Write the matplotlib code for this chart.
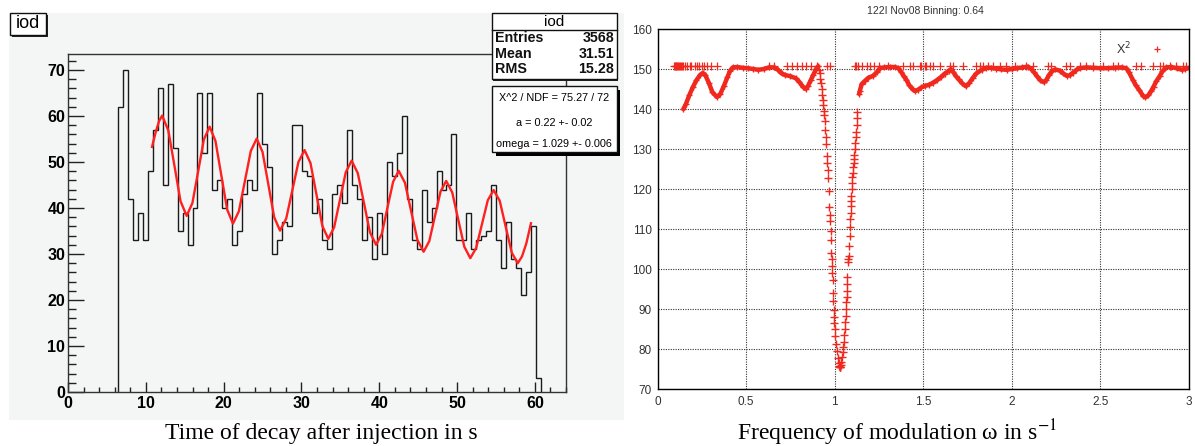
import numpy as np
import matplotlib.pyplot as plt
from matplotlib.patches import Rectangle
from matplotlib.lines import Line2D
from matplotlib.ticker import MultipleLocator, FuncFormatter

plt.rcParams['font.family'] = ['Liberation Sans', 'DejaVu Sans']

W, H = 1195, 446

# histogram "iod": counts in bins of 0.64 s, first bin starts at bin index 10 (6.4 s)
bin_width = 0.64
first_bin = 10
counts = [62, 70, 42, 33, 39, 33, 48, 57, 66, 45,
          67, 53, 35, 39, 32, 40, 65, 52, 65, 44,
          46, 40, 42, 32, 35, 43, 46, 44, 65, 54,
          49, 30, 33, 37, 36, 58, 58, 48, 47, 39,
          42, 33, 31, 43, 45, 41, 57, 45, 42, 33,
          38, 29, 39, 30, 50, 47, 52, 60, 42, 33,
          31, 44, 37, 40, 48, 44, 45, 56, 33, 33,
          39, 31, 33, 34, 35, 45, 33, 27, 37, 29,
          27, 21, 26, 36, 3]

# fitted curve
fit_t = [10.8, 11.25, 11.7, 12.1, 12.89, 13.68, 14.46, 15.25, 15.99, 16.73,
         17.46, 18.2, 18.95, 19.7, 20.45, 21.2, 21.96, 22.73, 23.49, 24.25,
         25.0, 25.75, 26.5, 27.25, 28.04, 28.83, 29.61, 30.4, 31.16, 31.93,
         32.69, 33.45, 34.2, 34.95, 35.7, 36.45, 37.24, 38.03, 38.81, 39.6,
         40.33, 41.05, 41.78, 42.5, 43.3, 44.1, 44.9, 45.7, 46.43, 47.15,
         47.88, 48.6, 49.38, 50.15, 50.93, 51.7, 52.45, 53.2, 53.95, 54.7,
         55.48, 56.25, 57.03, 57.8, 58.35, 58.9, 59.5]
fit_n = [53.3, 56.4, 58.9, 60.1, 56.9, 49.2, 41.5, 38.3, 41.1, 48.0,
         54.9, 57.7, 54.6, 47.15, 39.7, 36.6, 39.3, 45.85, 52.4, 55.1,
         52.2, 45.1, 38.0, 35.1, 37.7, 43.85, 50.0, 52.6, 49.8, 42.95,
         36.1, 33.3, 35.8, 41.8, 47.8, 50.3, 47.6, 41.15, 34.7, 32.0,
         34.4, 40.05, 45.7, 48.1, 45.5, 39.3, 33.1, 30.5, 32.8, 38.2,
         43.6, 45.9, 43.4, 37.5, 31.6, 29.1, 31.3, 36.5, 41.7, 43.9,
         41.6, 35.95, 30.3, 28.0, 29.5, 32.3, 36.7]

stats_rows = [('Entries', '3568'), ('Mean', '31.51'), ('RMS', '15.28')]
fit_rows = ['X^2 / NDF = 75.27 / 72', 'a = 0.22 +- 0.02', 'omega = 1.029 +- 0.006']

# chi^2 scan over omega
scan_a_w = [0.146, 0.16, 0.18, 0.20, 0.22, 0.24, 0.255, 0.27, 0.29, 0.31,
            0.335, 0.355, 0.375, 0.395, 0.41, 0.425, 0.45, 0.48, 0.51, 0.54,
            0.57, 0.60, 0.63, 0.66, 0.68, 0.70, 0.72, 0.75, 0.78, 0.80,
            0.82, 0.836, 0.85, 0.865, 0.88, 0.895, 0.907]
scan_a_chi = [140.0, 141.2, 143.5, 145.5, 147.2, 148.5, 149.0, 148.5, 146.5, 144.2,
              143.0, 143.8, 145.8, 148.0, 149.6, 150.4, 150.5, 150.3, 150.2, 150.0,
              149.8, 150.0, 150.4, 150.4, 149.8, 148.9, 148.5, 148.2, 147.7, 146.8,
              145.6, 145.0, 145.8, 147.2, 148.6, 150.0, 150.7]

dip_w = [0.913, 0.917, 0.920, 0.923, 0.927, 0.930, 0.933, 0.936, 0.939, 0.941,
         0.944, 0.947, 0.949, 0.951, 0.955, 0.958, 0.961, 0.962, 0.966, 0.970,
         0.973, 0.976, 0.978, 0.979, 0.981, 0.983, 0.985, 0.987, 0.989, 0.991,
         0.993, 0.994, 0.996, 0.998, 1.000, 1.004, 1.008, 1.013, 1.018, 1.023,
         1.026, 1.028, 1.030, 1.032, 1.035, 1.038, 1.042, 1.045, 1.048, 1.051,
         1.054, 1.056, 1.059, 1.062, 1.064, 1.066, 1.067, 1.068, 1.070, 1.071,
         1.075, 1.077, 1.079, 1.082, 1.085, 1.087, 1.088, 1.090, 1.092, 1.093,
         1.094, 1.096, 1.098, 1.100, 1.103, 1.105, 1.107, 1.109, 1.111, 1.114,
         1.117, 1.120, 1.122, 1.124, 1.126, 1.128]
dip_chi = [149.8, 148.9, 147.6, 146.5, 145.0, 143.5, 142.2, 141.0, 139.6, 138.5,
           137.0, 134.7, 133.1, 131.3, 128.3, 126.5, 124.8, 122.7, 119.4, 115.6,
           113.5, 111.9, 109.5, 107.3, 104.0, 102.5, 100.7, 99.0, 97.3, 94.0,
           92.0, 89.8, 88.0, 86.5, 85.0, 83.2, 81.2, 79.4, 77.8, 76.5,
           75.8, 75.6, 75.4, 75.6, 76.0, 76.7, 78.0, 79.2, 80.5, 81.7,
           83.5, 85.0, 86.8, 88.3, 90.0, 91.7, 93.0, 94.6, 96.3, 97.9,
           101.7, 102.5, 103.3, 105.8, 108.3, 110.5, 112.5, 114.0, 115.8, 117.0,
           118.3, 120.0, 121.6, 123.0, 124.1, 125.5, 126.6, 127.6, 128.6, 130.0,
           131.5, 133.1, 134.3, 136.0, 137.8, 139.3]

scan_b_w = [1.138, 1.142, 1.152, 1.17, 1.19, 1.217, 1.24, 1.255, 1.28, 1.31,
            1.34, 1.36, 1.375, 1.39, 1.405, 1.42, 1.44, 1.455, 1.47, 1.49,
            1.51, 1.53, 1.556, 1.58, 1.60, 1.62, 1.645, 1.655, 1.67, 1.685,
            1.70, 1.72, 1.74, 1.76, 1.78, 1.80, 1.83, 1.857, 1.88, 1.91,
            1.94, 1.97, 2.0, 2.03, 2.06, 2.09, 2.11, 2.125, 2.14, 2.16,
            2.18, 2.195, 2.21, 2.225, 2.245, 2.27, 2.29, 2.31, 2.326, 2.345,
            2.365, 2.383, 2.42, 2.46, 2.50, 2.54, 2.58, 2.62, 2.646, 2.66,
            2.683, 2.70, 2.72, 2.74, 2.754, 2.77, 2.785, 2.80, 2.815, 2.834,
            2.85, 2.871, 2.90, 2.93, 2.96, 2.98, 3.0]
scan_b_chi = [143.8, 144.5, 146.2, 147.0, 147.8, 148.3, 149.3, 150.2, 150.4, 150.5,
              150.5, 150.2, 149.3, 148.2, 147.3, 146.0, 144.9, 144.5, 144.8, 145.4,
              145.8, 146.0, 146.6, 147.3, 148.0, 148.8, 149.6, 149.9, 149.2, 148.2,
              147.4, 146.4, 145.7, 146.5, 147.8, 148.9, 149.8, 150.3, 150.3, 150.1,
              149.9, 149.8, 150.0, 150.2, 150.4, 150.6, 150.0, 149.2, 148.3, 147.2,
              146.7, 147.3, 148.5, 149.4, 149.9, 149.6, 148.9, 148.3, 148.4, 149.1,
              149.8, 150.2, 150.4, 150.3, 150.2, 150.2, 150.3, 150.4, 150.2, 149.3,
              147.3, 145.9, 144.7, 143.3, 142.9, 143.4, 144.4, 145.6, 146.9, 148.2,
              149.4, 150.4, 150.5, 150.2, 149.8, 150.0, 150.3]

# points where the fit stopped at the cap value
cap_level = 150.7
cap_w = [0.092, 0.097, 0.102, 0.107, 0.112, 0.117, 0.122, 0.127, 0.132, 0.137,
         0.142, 0.155, 0.165, 0.183, 0.19, 0.212, 0.225, 0.236, 0.25, 0.265,
         0.277, 0.30, 0.334, 0.63, 0.66, 0.729, 0.757, 0.785, 0.813, 0.841,
         0.869, 0.898, 0.954, 0.973, 1.114, 1.123, 1.133, 1.152, 1.18, 1.2,
         1.22, 1.25, 1.3, 1.387, 1.424, 1.443, 1.48, 1.49, 1.509, 1.518,
         1.537, 1.556, 1.594, 1.65, 1.669, 1.725, 1.80, 1.819, 1.838, 1.866,
         1.894, 1.932, 1.969, 2.016, 2.082, 2.12, 2.204, 2.223, 2.308, 2.327,
         2.383, 2.421, 2.458, 2.515, 2.571, 2.599, 2.703, 2.731, 2.797, 2.834,
         2.853, 2.89, 2.928, 2.965, 2.984]

PAD_GREY = '#f4f6f5'
RED = '#f0281e'


def rect(fig, x0, y0, x1, y1, **kw):
    # rectangle given in pixels from the top left corner
    r = Rectangle((x0 / W, 1 - y1 / H), (x1 - x0) / W, (y1 - y0) / H,
                  transform=fig.transFigure, **kw)
    fig.add_artist(r)


def ftext(fig, x, y, s, **kw):
    fig.text(x / W, 1 - y / H, s, **kw)


def draw_histogram(fig):
    rect(fig, 9, 13, 624, 420, facecolor=PAD_GREY, edgecolor='none', zorder=-10)

    ax = fig.add_axes([68 / W, 1 - 392 / H, (566 - 68) / W, (392 - 54) / H])
    ax.set_facecolor(PAD_GREY)
    edges = bin_width * np.arange(first_bin, first_bin + len(counts) + 1)
    ax.stairs(counts, edges, baseline=0, color='#1a1a1a', lw=1.0)
    ax.plot(fit_t, fit_n, color='#ff2020', lw=1.7)

    ax.set_xlim(0, 64)
    ax.set_ylim(0, 73.5)
    ax.xaxis.set_major_locator(MultipleLocator(10))
    ax.xaxis.set_minor_locator(MultipleLocator(2))
    ax.yaxis.set_major_locator(MultipleLocator(10))
    ax.yaxis.set_minor_locator(MultipleLocator(2))
    ax.tick_params(which='both', direction='in', color='#222', width=1)
    ax.tick_params(axis='y', which='major', length=11.3, pad=2)
    ax.tick_params(axis='y', which='minor', length=5.6)
    ax.tick_params(axis='x', which='major', length=7.3, pad=3)
    ax.tick_params(axis='x', which='minor', length=3.6)
    for lab in ax.get_xticklabels() + ax.get_yticklabels():
        lab.set_fontsize(11.5)
        lab.set_fontweight('bold')
    for sp in ax.spines.values():
        sp.set_color('#333')
        sp.set_linewidth(1)

    # title box
    rect(fig, 12, 15, 48, 37, facecolor='#222', edgecolor='none')
    rect(fig, 10, 13, 46, 35, facecolor='white', edgecolor='#111', lw=1)
    ftext(fig, 28, 24, 'iod', ha='center', va='center', size=13)

    # statistics box
    rect(fig, 493, 15, 618, 81, facecolor='#222', edgecolor='none')
    rect(fig, 491.7, 13.3, 616.7, 79.3, facecolor='white', edgecolor='#111', lw=1)
    fig.add_artist(Line2D([491.7 / W, 616.7 / W], [1 - 30 / H, 1 - 30 / H],
                          transform=fig.transFigure, color='#111', lw=1))
    ftext(fig, 554, 22, 'iod', ha='center', va='center', size=11)
    for i, (name, val) in enumerate(stats_rows):
        y = 38.5 + i * 15.3
        ftext(fig, 495.5, y, name, ha='left', va='center', size=10.3,
              weight='bold', color='#111')
        ftext(fig, 614, y, val, ha='right', va='center', size=10.3,
              weight='bold', color='#111')

    # fit result box
    rect(fig, 495.5, 89.5, 620, 155.5, facecolor='black', edgecolor='none')
    rect(fig, 492.3, 86, 616.7, 151.7, facecolor='white', edgecolor='#111', lw=1)
    for y, s in zip([98.3, 122.7, 144], fit_rows):
        ftext(fig, 554, y, s, ha='center', va='center', size=7.8)

    ftext(fig, 321.5, 433, 'Time of decay after injection in s', ha='center',
          va='center', family='Liberation Serif', size=17)


def draw_scan(fig):
    ax = fig.add_axes([657.5 / W, 1 - 389 / H, (1189 - 657.5) / W, (389 - 29) / H])
    for w, c in [(scan_a_w, scan_a_chi), (scan_b_w, scan_b_chi)]:
        ax.plot(w, c, color=RED, lw=3.2, solid_capstyle='round',
                marker='+', ms=5, mew=1)
    ax.plot(dip_w, dip_chi, ls='none', marker='+', ms=6, mew=1, color=RED)
    ax.plot(cap_w, [cap_level] * len(cap_w), ls='none', marker='+', ms=5.5,
            mew=0.9, color=RED)

    ax.set_xlim(0, 3)
    ax.set_ylim(70, 160)
    ax.set_xticks([0, 0.5, 1, 1.5, 2, 2.5, 3])
    ax.set_yticks(range(70, 161, 10))
    ax.xaxis.set_major_formatter(FuncFormatter(lambda v, p: '%g' % v))
    ax.grid(True, color='#333', ls=(0, (1, 1.2)), lw=0.8)
    ax.tick_params(length=0, labelsize=8.5, labelcolor='#333')
    ax.tick_params(axis='x', pad=5)
    ax.tick_params(axis='y', pad=4)
    for sp in ax.spines.values():
        sp.set_color('black')
        sp.set_linewidth(1)

    handle = Line2D([], [], ls='none', marker='+', ms=5, mew=0.9, color=RED)
    ax.legend([handle], ['X$^2$'], loc='upper right', bbox_to_anchor=(0.975, 1.0),
              frameon=False, markerfirst=False, handlelength=1.2,
              handletextpad=1.5, fontsize=9, labelcolor='#333')

    ftext(fig, 925, 11, '122I Nov08 Binning: 0.64', ha='center', va='center',
          size=7.5, color='#333')
    ftext(fig, 897, 433, r'Frequency of modulation ω in s$^{-1}$', ha='center',
          va='center', family='Liberation Serif', size=17, math_fontfamily='stix')


def main():
    fig = plt.figure(figsize=(W / 100, H / 100), dpi=100)
    draw_histogram(fig)
    draw_scan(fig)
    fig.savefig('out.png', dpi=100)


if __name__ == '__main__':
    main()
